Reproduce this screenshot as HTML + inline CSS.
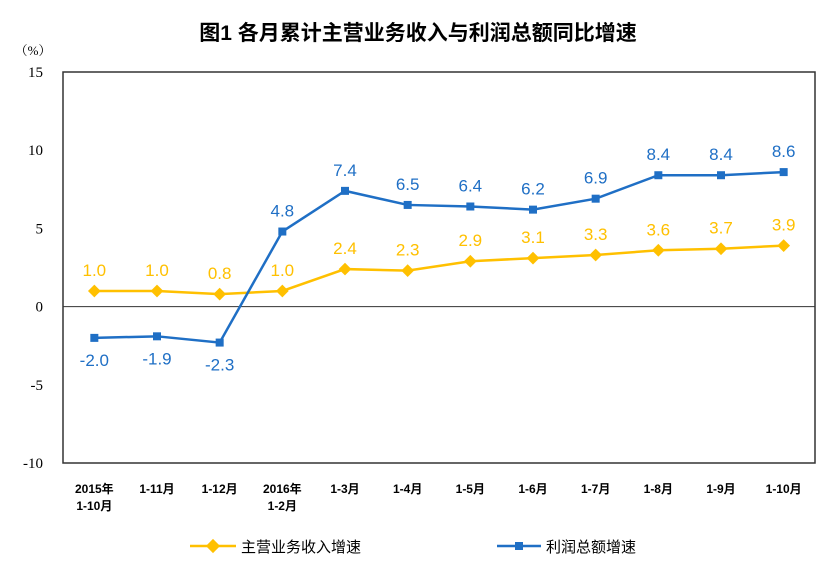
<!DOCTYPE html>
<html><head><meta charset="utf-8"><style>
body{margin:0;background:#fff;}
svg text{font-family:"Liberation Sans","Noto Sans CJK SC",sans-serif;}
</style></head><body>
<svg id="chart" width="831" height="558">
<text x="418" y="40" text-anchor="middle" font-size="21" font-weight="bold" fill="#000">图1  各月累计主营业务收入与利润总额同比增速</text>
<text x="33" y="55" text-anchor="middle" font-size="13" fill="#000" style="font-family:'Liberation Serif','Noto Serif CJK SC',serif">（%）</text>
<rect x="63" y="72" width="752" height="391" fill="none" stroke="#333" stroke-width="1.5"/>
<g id="axes"></g><g id="series"></g>
<g>
<line x1="190" y1="546" x2="236" y2="546" stroke="#FFC000" stroke-width="2.5"/>
<rect x="208" y="541" width="10" height="10" fill="#FFC000" transform="rotate(45 213 546)"/>
<text x="241" y="552" font-size="15" fill="#000">主营业务收入增速</text>
<line x1="497" y1="546" x2="541" y2="546" stroke="#1F6FC5" stroke-width="2.5"/>
<rect x="515" y="542" width="8" height="8" fill="#1F6FC5"/>
<text x="546" y="552" font-size="15" fill="#000">利润总额增速</text>
</g>
</svg>
<script>
const categories=[["2015年","1-10月"],["1-11月"],["1-12月"],["2016年","1-2月"],["1-3月"],["1-4月"],["1-5月"],["1-6月"],["1-7月"],["1-8月"],["1-9月"],["1-10月"]];
const revenue=[1.0,1.0,0.8,1.0,2.4,2.3,2.9,3.1,3.3,3.6,3.7,3.9];
const profit=[-2.0,-1.9,-2.3,4.8,7.4,6.5,6.4,6.2,6.9,8.4,8.4,8.6];
const yTicks=[15,10,5,0,-5,-10];
const NS="http://www.w3.org/2000/svg";
const L=63,R=815,T=72,B=463,yMax=15,yMin=-10;
const bw=(R-L)/categories.length;
function x(i){return L+bw*(i+0.5);}
function y(v){return T+(yMax-v)/(yMax-yMin)*(B-T);}
function mk(tag,attrs,parent){const e=document.createElementNS(NS,tag);for(const k in attrs)e.setAttribute(k,attrs[k]);parent.appendChild(e);return e;}
const axes=document.getElementById('axes'),series=document.getElementById('series');
yTicks.forEach(v=>{
 const t=mk('text',{x:43,y:y(v)+5,'text-anchor':'end','font-size':15,fill:'#000',style:"font-family:'Liberation Serif',serif"},axes);
 t.textContent=v;
 
 
});
const z=mk('line',{x1:L,x2:R,y1:y(0),y2:y(0),stroke:'#333','stroke-width':1},axes);


categories.forEach((c,i)=>{
 c.forEach((s,j)=>{
  const t=mk('text',{x:x(i),y:493+j*17,'text-anchor':'middle','font-size':12,'font-weight':'bold',fill:'#000'},axes);
  t.textContent=s;
  
  
 });
});
function draw(vals,color,name,diamond){
 const pl=mk('polyline',{points:vals.map((v,i)=>x(i)+','+y(v)).join(' '),fill:'none',stroke:color,'stroke-width':2.5},series);
 
 
 vals.forEach((v,i)=>{
  let m;
  if(diamond){m=mk('rect',{x:x(i)-4.5,y:y(v)-4.5,width:9,height:9,fill:color,transform:`rotate(45 ${x(i)} ${y(v)})`},series);}
  else{m=mk('rect',{x:x(i)-4,y:y(v)-4,width:8,height:8,fill:color},series);}
  
  
  const below=v<0;
  const t=mk('text',{x:x(i),y:below?y(v)+28:y(v)-15,'text-anchor':'middle','font-size':17,fill:color},series);
  t.textContent=v.toFixed(1);
  
  
 });
}
draw(revenue,'#FFC000','revenue',true);
draw(profit,'#1F6FC5','profit',false);
</script>
</body></html>
